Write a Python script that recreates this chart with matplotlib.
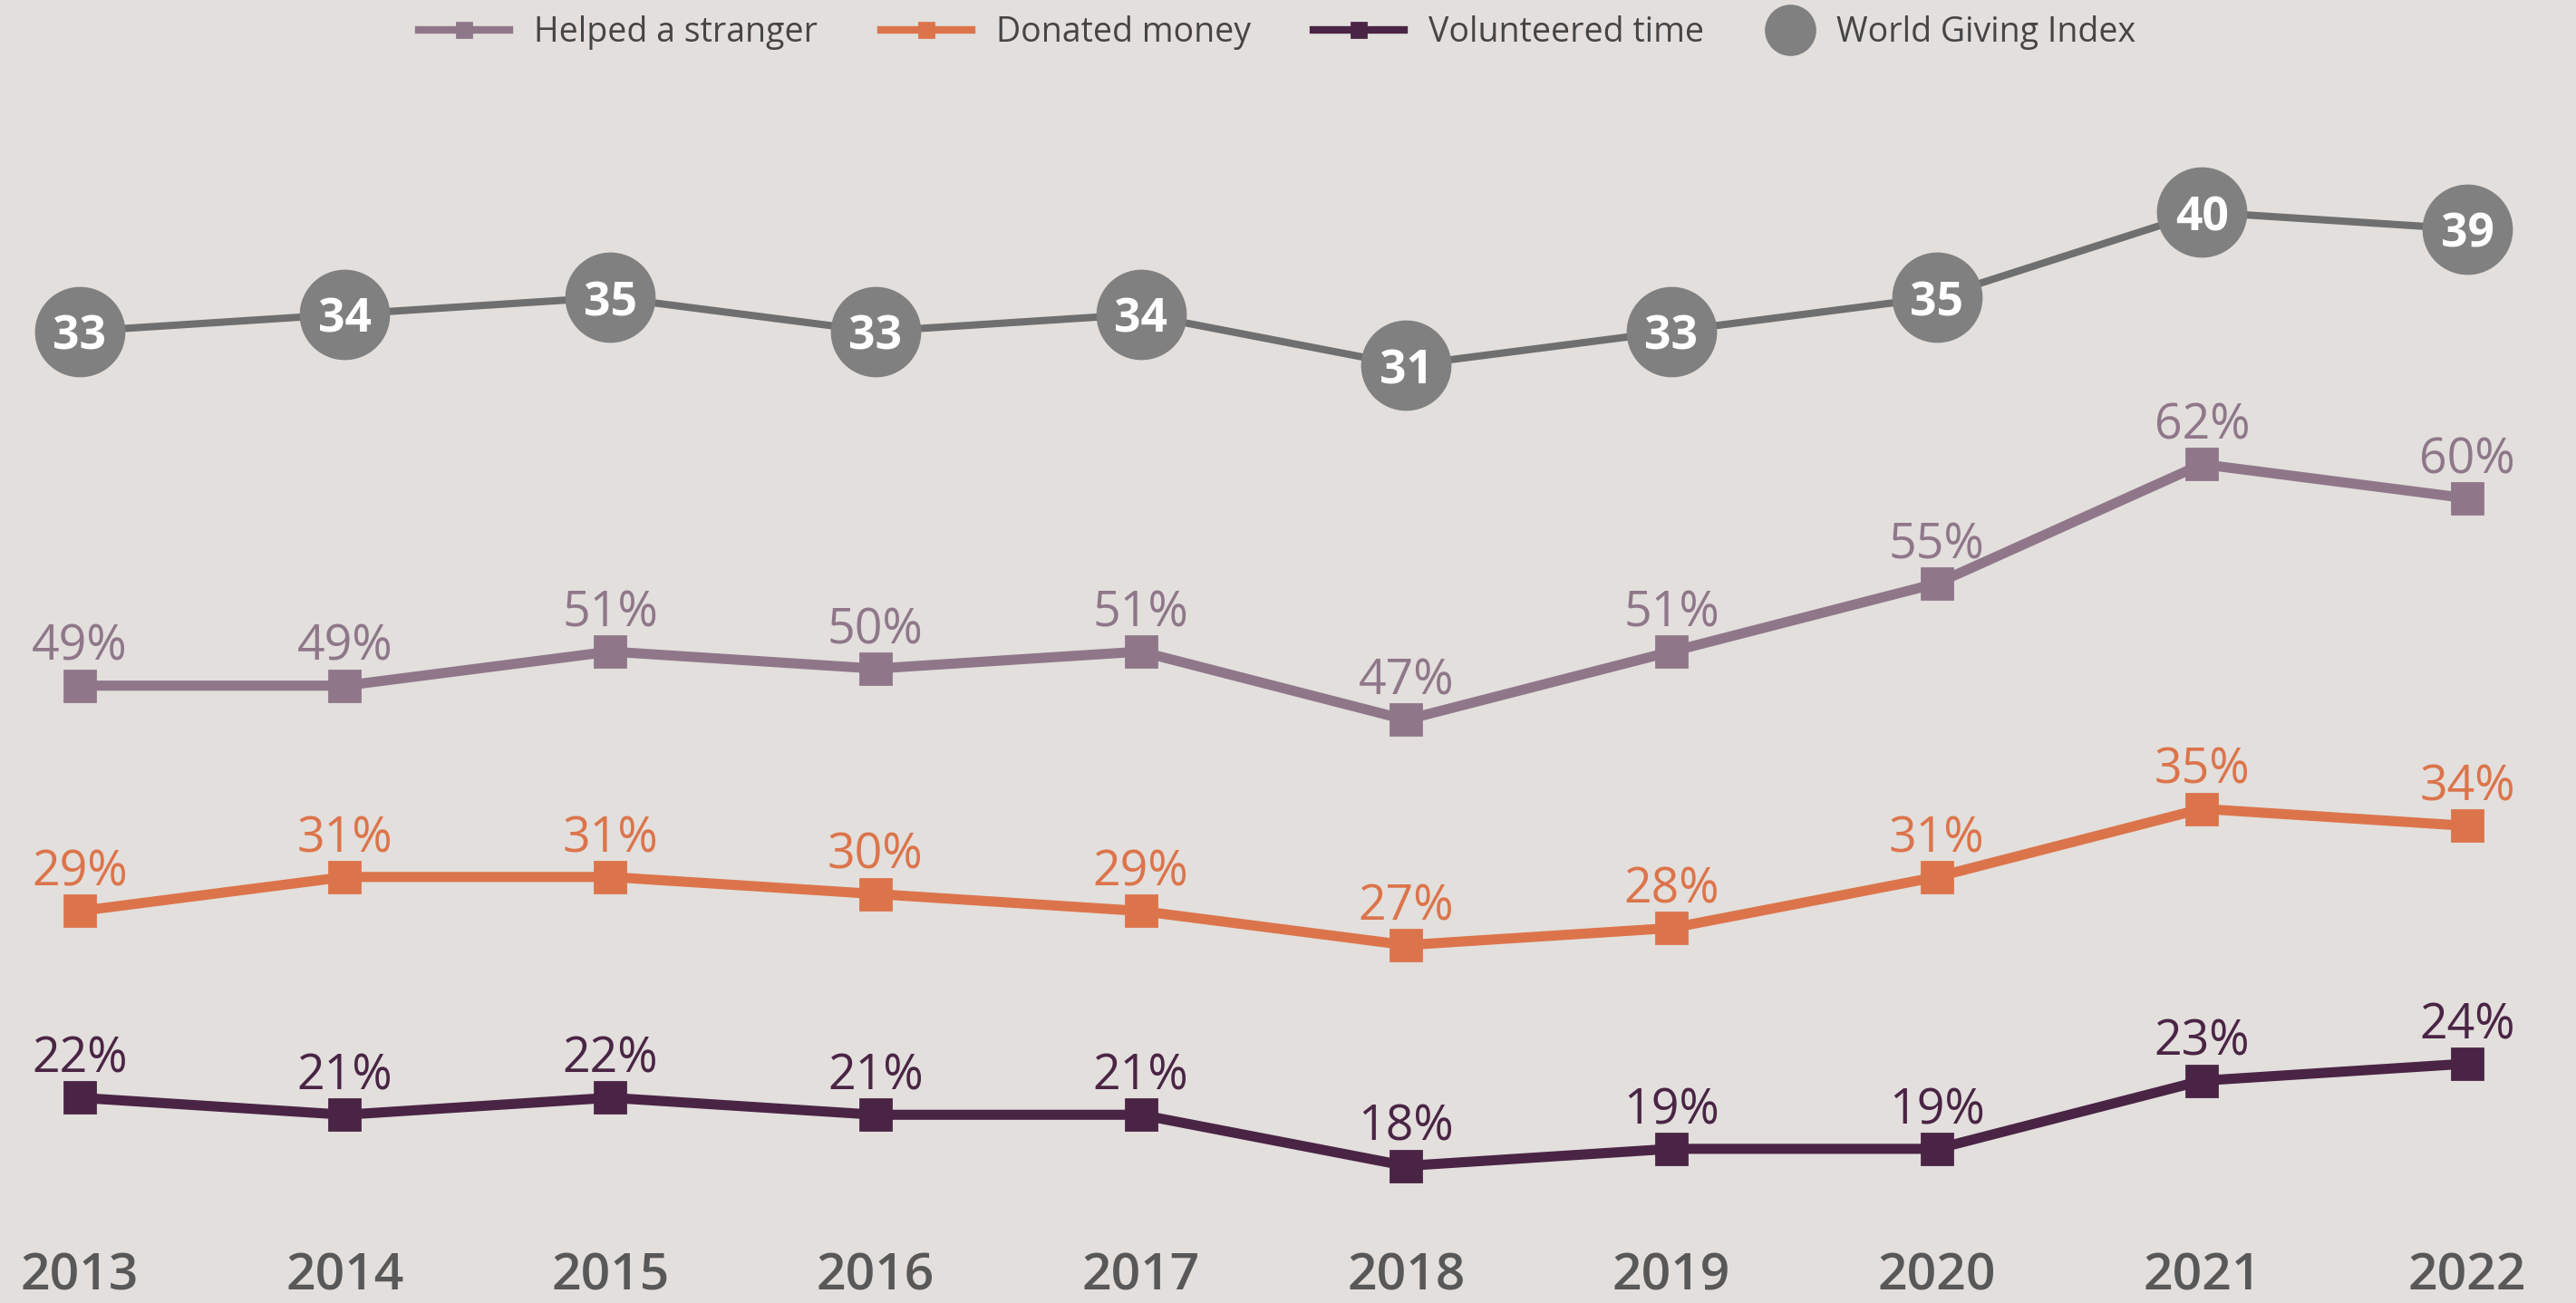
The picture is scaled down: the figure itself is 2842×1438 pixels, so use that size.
import matplotlib
matplotlib.use("Agg")
import matplotlib.pyplot as plt
from matplotlib.lines import Line2D

plt.rcParams["font.family"] = ["Open Sans", "DejaVu Sans"]

# ---------------- data ----------------
years = [2013, 2014, 2015, 2016, 2017, 2018, 2019, 2020, 2021, 2022]
helped = [49, 49, 51, 50, 51, 47, 51, 55, 62, 60]
donated = [29, 31, 31, 30, 29, 27, 28, 31, 35, 34]
volunteered = [22, 21, 22, 21, 21, 18, 19, 19, 23, 24]
giving_index = [33, 34, 35, 33, 34, 31, 33, 35, 40, 39]
series_names = ["Helped a stranger", "Donated money", "Volunteered time", "World Giving Index"]

# ---------------- style / layout ----------------
BG = "#e2dfdc"
C_HELP = "#8f7789"
C_DON = "#dc744b"
C_VOL = "#4a2445"
C_IDX = "#808080"
C_IDX_LINE = "#6f6f6f"
C_YEAR = "#585858"
C_LEG = "#454545"

# each series is drawn in its own stacked band (same scale, different window)
ylims = {
    "help": (12.76, 89.25),
    "don": (5.99, 82.48),
    "vol": (9.95, 86.44),
    "idx": (-24.04, 52.45),
}
xlim = (2012.70, 2022.41)

fig = plt.figure(figsize=(14.21, 7.19), dpi=200, facecolor=BG)

base = fig.add_axes([0, 0, 1, 1])
base.set_facecolor(BG)
base.set_xlim(*xlim)
base.set_ylim(*ylims["help"])
for s in base.spines.values():
    s.set_visible(False)
base.set_yticks([])
base.set_xticks(years)
base.set_xticklabels([str(y) for y in years], fontsize=20.5, fontweight="semibold", color=C_YEAR)
base.tick_params(axis="x", length=0, pad=-20.5)


def make_ax(key):
    a = fig.add_axes([0, 0, 1, 1], sharex=base)
    a.set_ylim(*ylims[key])
    a.patch.set_visible(False)
    a.axis("off")
    return a


ax_help = base
ax_don = make_ax("don")
ax_vol = make_ax("vol")
ax_idx = make_ax("idx")

LW = 4.0
MS = 12.2
LBL_FS = 19.3
LBL_OFF = 10.0

for a, vals, col in [(ax_help, helped, C_HELP), (ax_don, donated, C_DON), (ax_vol, volunteered, C_VOL)]:
    a.plot(years, vals, color=col, lw=LW, marker="s", ms=MS, mec=col, mfc=col, zorder=3,
           solid_joinstyle="miter")
    for x, v in zip(years, vals):
        a.annotate(f"{v}%", (x, v), xytext=(0, LBL_OFF), textcoords="offset points",
                   ha="center", va="baseline", fontsize=LBL_FS, color=col, zorder=4)

ax_idx.plot(years, giving_index, color=C_IDX_LINE, lw=2.9, zorder=2)
ax_idx.plot(years, giving_index, ls="none", marker="o", ms=34.9, mfc=C_IDX, mec=C_IDX, zorder=3)
for x, v in zip(years, giving_index):
    ax_idx.text(x, v, str(v), ha="center", va="center_baseline", fontsize=18.6,
                fontweight="bold", color="white", zorder=4)

line_handles = [
    Line2D([], [], color=C_HELP, lw=3, marker="s", ms=6),
    Line2D([], [], color=C_DON, lw=3, marker="s", ms=6),
    Line2D([], [], color=C_VOL, lw=3, marker="s", ms=6),
]
idx_handle = Line2D([], [], ls="none", marker="o", ms=19.4, color=C_IDX)

LEG_Y = 1 - 36 / 1438
leg1 = fig.legend(line_handles, series_names[:3], loc="center left",
                  bbox_to_anchor=(462 / 2842, LEG_Y), ncol=3, frameon=False, fontsize=13.5,
                  handlelength=2.67, handletextpad=0.72, columnspacing=1.85, labelcolor=C_LEG,
                  borderpad=0, borderaxespad=0)
leg2 = fig.legend([idx_handle], series_names[3:], loc="center left",
                  bbox_to_anchor=(1948 / 2842, LEG_Y), frameon=False, fontsize=13.5,
                  handlelength=1.44, handletextpad=0.64, labelcolor=C_LEG,
                  borderpad=0, borderaxespad=0)

fig.savefig("out.png", dpi=200, facecolor=BG)
